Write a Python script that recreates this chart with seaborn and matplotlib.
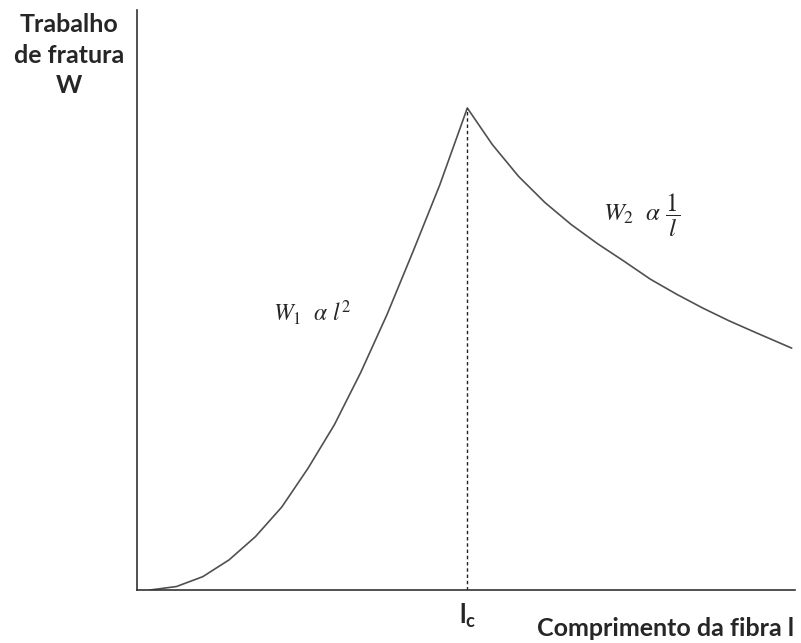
import matplotlib
matplotlib.use("Agg")
import matplotlib.pyplot as plt
import matplotlib.transforms as mtransforms
import pandas as pd
import seaborn as sns

# curve (arbitrary units, axes 0..10 on both)
l_rise = [0.20, 0.60, 1.00, 1.40, 1.80, 2.20, 2.60, 3.00, 3.40, 3.80,
          4.20, 4.60, 5.02]
w_rise = [0.00, 0.06, 0.23, 0.52, 0.92, 1.43, 2.10, 2.85, 3.75, 4.75,
          5.85, 6.98, 8.31]
l_fall = [5.02, 5.40, 5.80, 6.20, 6.60, 7.00, 7.40, 7.80, 8.20, 8.60,
          9.00, 9.40, 9.95]
w_fall = [8.31, 7.68, 7.13, 6.68, 6.30, 5.97, 5.67, 5.36, 5.10, 4.86,
          4.64, 4.44, 4.17]
l_crit = 5.02
w_peak = 8.31

y_label = "Trabalho\nde fratura\nW"
x_label = "Comprimento da fibra l"
label_w1 = r"$W_1\ \ \alpha\ l^2$"
label_w2 = r"$W_2\ \ \alpha\ \dfrac{1}{l}$"

sns.set_style("white")
plt.rcParams["font.family"] = ["Lato", "DejaVu Sans"]
plt.rcParams["mathtext.fontset"] = "custom"
plt.rcParams["mathtext.rm"] = "Lato:bold"
plt.rcParams["mathtext.bf"] = "Lato:bold"
plt.rcParams["mathtext.it"] = "Lato:bold"

df = pd.DataFrame({"l": l_rise + l_fall[1:], "W": w_rise + w_fall[1:]})

fig = plt.figure(figsize=(8.01, 6.43), dpi=100)
ax = fig.add_axes([137 / 801, 53 / 643, 658 / 801, 580 / 643])

sns.lineplot(data=df, x="l", y="W", sort=False, estimator=None,
             color="#505050", linewidth=1.2, ax=ax)
ax.plot([l_crit, l_crit], [0, w_peak], color="#222222", linewidth=1.0,
        linestyle=(0, (2.5, 2)))

ax.set_xlim(0, 10)
ax.set_ylim(0, 10)
ax.set_xticks([])
ax.set_yticks([])
ax.set_xlabel("")
ax.set_ylabel("")
sns.despine(ax=ax)
for s in ["left", "bottom"]:
    ax.spines[s].set_color("#333333")
    ax.spines[s].set_linewidth(1.2)

ax.text(2.67, 4.79, label_w1, fontsize=17, ha="center", va="center",
        math_fontfamily="stix")
ax.text(7.67, 6.47, label_w2, fontsize=18, ha="center", va="center",
        math_fontfamily="stix")

trans = mtransforms.blended_transform_factory(ax.transData, ax.transAxes)
ax.text(l_crit, -0.045, r"$\mathbf{l_c}$", fontsize=19, ha="center",
        va="center", transform=trans, math_fontfamily="custom")

fig.text(69 / 801, 1 - 13 / 643, y_label, fontsize=18, fontweight="bold",
         ha="center", va="top", multialignment="center", linespacing=1.4)
fig.text(794 / 801, 1 - 628 / 643, x_label, fontsize=18, fontweight="bold",
         ha="right", va="center")

fig.savefig("out.png", dpi=100)
